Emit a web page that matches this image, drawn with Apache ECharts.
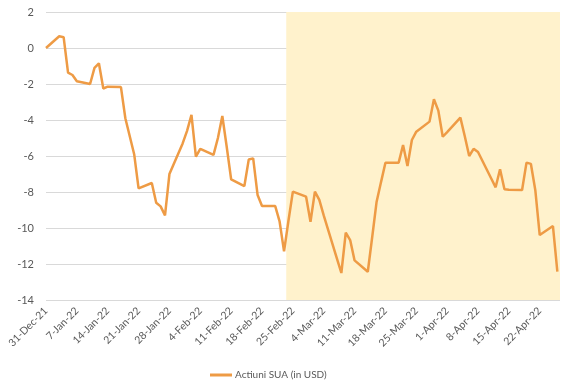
<!DOCTYPE html>
<html>
<head>
<meta charset="utf-8">
<script src="https://cdn.jsdelivr.net/npm/echarts@6/dist/echarts.min.js"></script>
<style>
html,body{margin:0;padding:0;background:#fff;}
#chart{width:580px;height:390px;}
</style>
</head>
<body>
<div id="chart"></div>
<script>
// ---- data ----
const seriesName = 'Actiuni SUA (in USD)';
const dates = [
 '2021-12-31',
 '2022-01-03','2022-01-04','2022-01-05','2022-01-06','2022-01-07',
 '2022-01-10','2022-01-11','2022-01-12','2022-01-13','2022-01-14',
 '2022-01-17','2022-01-18','2022-01-19','2022-01-20','2022-01-21',
 '2022-01-24','2022-01-25','2022-01-26','2022-01-27','2022-01-28',
 '2022-01-31','2022-02-01','2022-02-02','2022-02-03','2022-02-04',
 '2022-02-07','2022-02-08','2022-02-09','2022-02-10','2022-02-11',
 '2022-02-14','2022-02-15','2022-02-16','2022-02-17','2022-02-18',
 '2022-02-21','2022-02-22','2022-02-23','2022-02-24','2022-02-25',
 '2022-02-28','2022-03-01','2022-03-02','2022-03-03','2022-03-04',
 '2022-03-07','2022-03-08','2022-03-09','2022-03-10','2022-03-11',
 '2022-03-14','2022-03-15','2022-03-16','2022-03-17','2022-03-18',
 '2022-03-21','2022-03-22','2022-03-23','2022-03-24','2022-03-25',
 '2022-03-28','2022-03-29','2022-03-30','2022-03-31','2022-04-01',
 '2022-04-04','2022-04-05','2022-04-06','2022-04-07','2022-04-08',
 '2022-04-11','2022-04-12','2022-04-13','2022-04-14','2022-04-15',
 '2022-04-18','2022-04-19','2022-04-20','2022-04-21','2022-04-22',
 '2022-04-25','2022-04-26'
];
const values = [
 0,
 0.65, 0.6, -1.37, -1.5, -1.85,
 -2.0, -1.1, -0.85, -2.25, -2.15,
 -2.17, -3.9, -4.9, -5.9, -7.8,
 -7.5, -8.6, -8.8, -9.3, -7.0,
 -5.3, -4.6, -3.72, -6.04, -5.6,
 -5.94, -5.0, -3.78, -5.5, -7.3,
 -7.67, -6.19, -6.13, -8.17, -8.78,
 -8.78, -9.65, -11.3, -9.6, -7.98,
 -8.26, -9.65, -7.98, -8.44, -9.3,
 -11.7, -12.5, -10.26, -10.67, -11.8,
 -12.43, -10.5, -8.54, -7.45, -6.37,
 -6.37, -5.39, -6.56, -5.11, -4.65,
 -4.09, -2.85, -3.48, -4.93, -4.67,
 -3.87, -4.9, -6.0, -5.6, -5.78,
 -7.25, -7.74, -6.74, -7.85, -7.87,
 -7.89, -6.37, -6.44, -7.9, -10.39,
 -9.89, -12.43
];
const yTicks = [2, 0, -2, -4, -6, -8, -10, -12, -14];
const shadeStartDate = '2022-02-24';
const MONTHS = ['Jan','Feb','Mar','Apr','May','Jun','Jul','Aug','Sep','Oct','Nov','Dec'];

// ---- build ----
const DAY = 86400000;
const base = Date.parse(dates[0] + 'T00:00:00Z');
const dayOf = s => Math.round((Date.parse(s + 'T00:00:00Z') - base) / DAY);
const points = dates.map((d, i) => [dayOf(d), values[i]]);
const lastDay = dayOf(dates[dates.length - 1]);
const fmtDay = v => {
  if (Math.abs(v - Math.round(v)) > 1e-6 || Math.round(v) % 7 !== 0) return '';
  const dt = new Date(base + Math.round(v) * DAY);
  return dt.getUTCDate() + '-' + MONTHS[dt.getUTCMonth()] + '-' + String(dt.getUTCFullYear()).slice(2);
};

const chart = echarts.init(document.getElementById('chart'), null, {renderer: 'canvas'});
const font = 'Lato, "Open Sans", sans-serif';
const lineColor = '#EE9B45';
chart.setOption({
  animation: false,
  backgroundColor: '#ffffff',
  grid: {left: 46, right: 20, top: 12, bottom: 90, containLabel: false},
  legend: {
    data: [{name: seriesName, icon: 'rect'}],
    left: 205, top: 365,
    itemWidth: 22, itemHeight: 3, itemGap: 4,
    itemStyle: {color: lineColor},
    textStyle: {color: '#595959', fontSize: 10, fontFamily: font, padding: [0, 0, 0, -2]}
  },
  xAxis: {
    type: 'value',
    min: 0, max: lastDay + 0.6, interval: 7,
    axisLine: {show: false},
    axisTick: {show: false},
    splitLine: {show: false},
    axisLabel: {
      rotate: 45, color: '#595959', fontSize: 10.5, fontFamily: font,
      margin: 9, showMaxLabel: false, formatter: fmtDay
    }
  },
  yAxis: {
    type: 'value',
    min: yTicks[yTicks.length - 1], max: yTicks[0], interval: 2,
    axisLine: {show: false},
    axisTick: {show: false},
    splitLine: {lineStyle: {color: '#d9d9d9', width: 1}},
    axisLabel: {color: '#595959', fontSize: 11, fontFamily: font, margin: 12}
  },
  series: [{
    name: seriesName,
    type: 'line',
    data: points,
    symbol: 'none',
    clip: false,
    lineStyle: {color: lineColor, width: 2.5},
    itemStyle: {color: lineColor},
    markArea: {
      silent: true,
      itemStyle: {color: '#FFF2CC'},
      data: [[{xAxis: dayOf(shadeStartDate) - 0.5}, {xAxis: lastDay + 0.6}]]
    },
    z: 3
  }]
});
</script>
</body>
</html>
